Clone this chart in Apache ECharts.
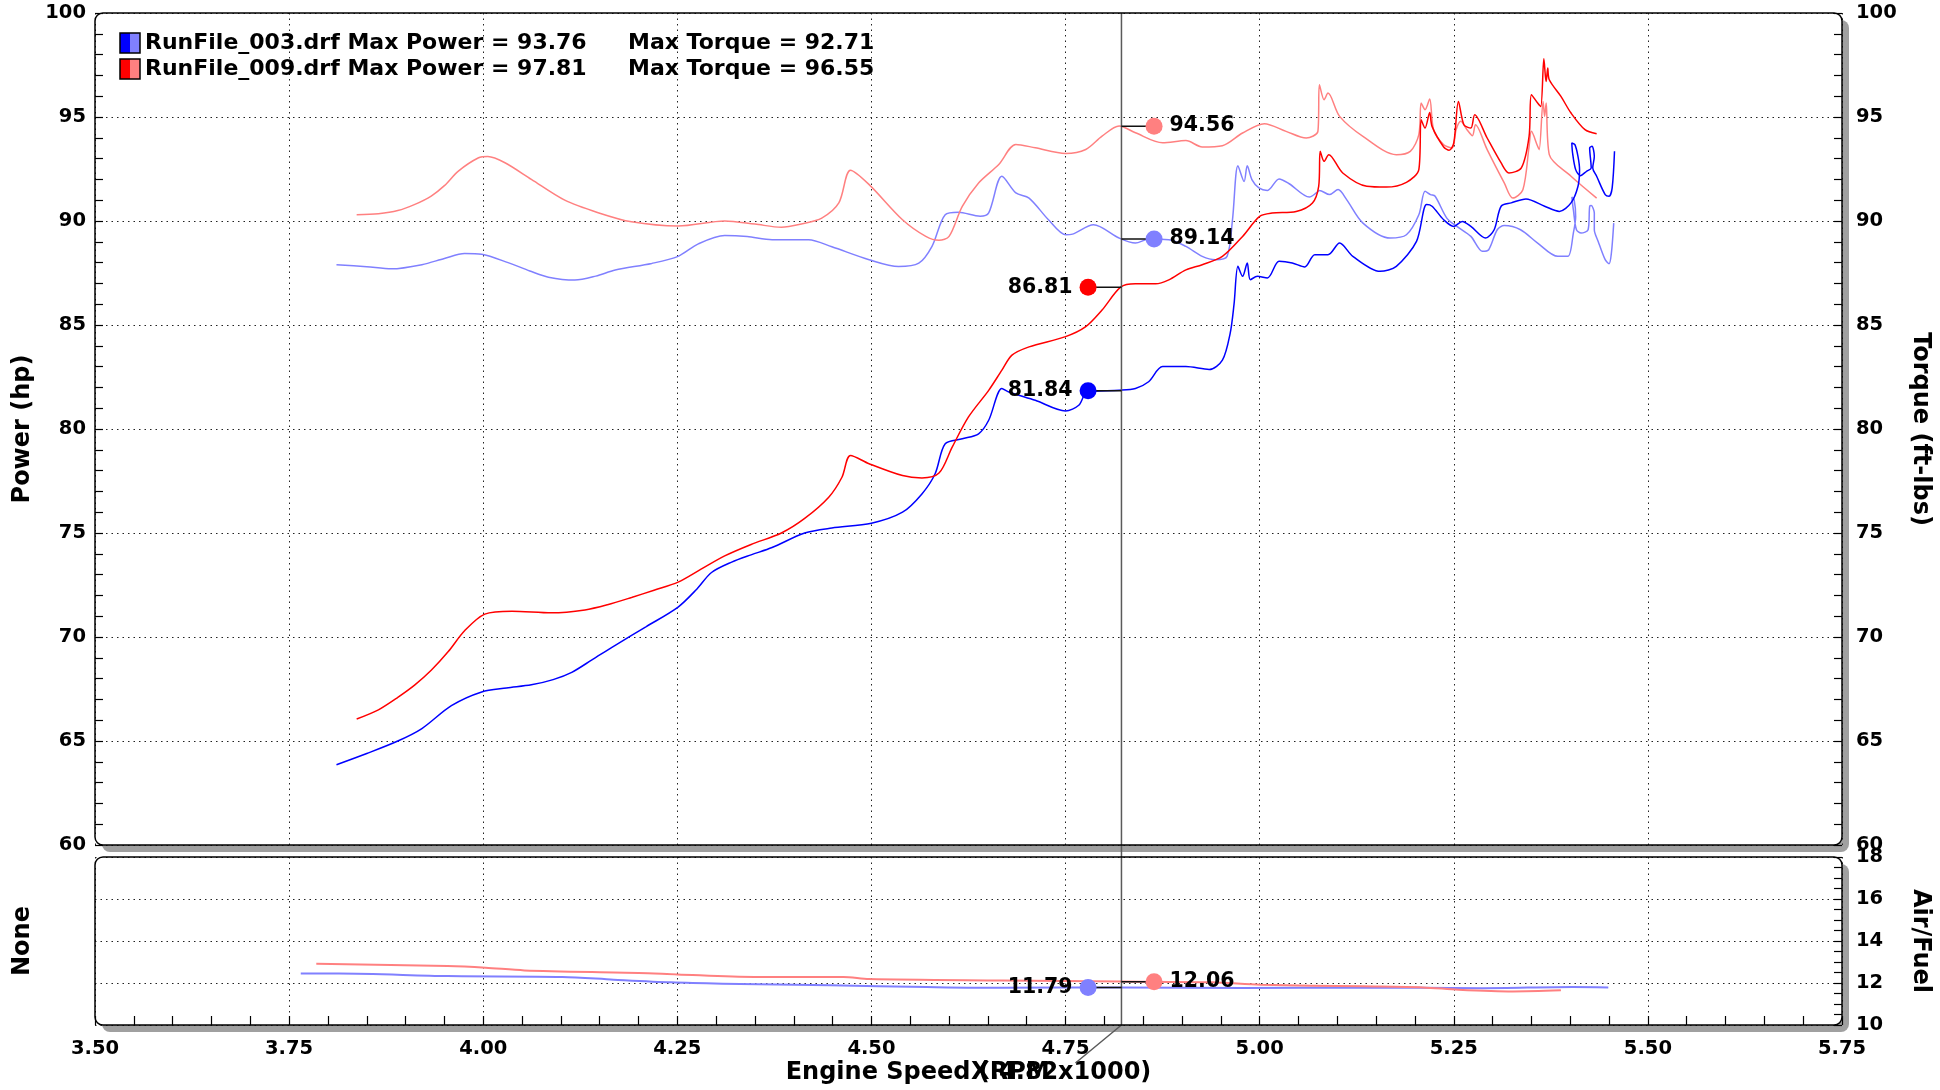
<!DOCTYPE html>
<html><head><meta charset="utf-8">
<script src="https://cdn.jsdelivr.net/npm/echarts@6/dist/echarts.min.js"></script>
<style>html,body{margin:0;padding:0;background:#fff}#c{width:1940px;height:1090px}</style>
</head><body><div id="c"></div><script>
// ---------- data ----------
const runNames = ['RunFile_003.drf', 'RunFile_009.drf'];
const maxPower = [93.76, 97.81];
const maxTorque = [92.71, 96.55];
const xTickLabels = ['3.50','3.75','4.00','4.25','4.50','4.75','5.00','5.25','5.50','5.75'];

const power003 = [[3.811,63.86],[3.850,64.4],[3.890,65.0],[3.921,65.6],[3.959,66.7],[3.998,67.36],[4.030,67.55],[4.062,67.7],[4.090,67.95],[4.114,68.3],[4.140,68.9],[4.170,69.6],[4.210,70.5],[4.251,71.44],[4.275,72.3],[4.294,73.1],[4.320,73.6],[4.345,73.95],[4.372,74.3],[4.414,75.0],[4.449,75.24],[4.500,75.47],[4.540,76.0],[4.565,76.88],[4.582,77.85],[4.595,79.29],[4.617,79.53],[4.638,79.77],[4.651,80.42],[4.668,81.95],[4.677,81.78],[4.711,81.38],[4.750,80.87],[4.767,81.14],[4.778,81.78],[4.819,81.86],[4.840,81.95],[4.857,82.27],[4.875,83.0],[4.905,83.0],[4.935,82.86],[4.952,83.31],[4.962,84.6],[4.967,86.0],[4.972,87.82],[4.978,87.34],[4.984,87.98],[4.988,87.18],[4.997,87.34],[5.010,87.26],[5.025,88.06],[5.042,87.98],[5.058,87.79],[5.071,88.38],[5.088,88.38],[5.103,88.94],[5.120,88.3],[5.155,87.58],[5.176,87.82],[5.202,89.02],[5.215,90.79],[5.222,90.71],[5.237,90.06],[5.250,89.74],[5.261,89.98],[5.272,89.74],[5.291,89.18],[5.302,89.58],[5.311,90.71],[5.324,90.87],[5.343,91.06],[5.367,90.71],[5.386,90.46],[5.401,90.87],[5.410,91.67],[5.412,92.47],[5.410,93.1],[5.406,93.67],[5.402,93.75],[5.403,93.27],[5.407,92.47],[5.413,92.18],[5.421,92.39],[5.427,92.55],[5.425,93.51],[5.428,93.59],[5.431,93.11],[5.429,92.55],[5.434,92.15],[5.445,91.27],[5.450,91.19],[5.454,91.59],[5.457,93.35]];

const power009 = [[3.837,66.06],[3.865,66.5],[3.890,67.1],[3.912,67.7],[3.933,68.4],[3.955,69.3],[3.976,70.3],[4.002,71.1],[4.037,71.24],[4.088,71.16],[4.131,71.3],[4.160,71.55],[4.191,71.9],[4.220,72.25],[4.251,72.64],[4.280,73.25],[4.311,73.9],[4.345,74.45],[4.384,75.0],[4.414,75.7],[4.445,76.72],[4.462,77.68],[4.473,78.73],[4.497,78.33],[4.540,77.76],[4.565,77.65],[4.587,77.88],[4.604,79.13],[4.625,80.58],[4.651,81.86],[4.668,82.83],[4.681,83.55],[4.703,83.95],[4.750,84.44],[4.776,84.92],[4.797,85.72],[4.821,86.82],[4.840,86.98],[4.866,86.98],[4.883,87.17],[4.905,87.65],[4.926,87.9],[4.952,88.3],[4.978,89.26],[5.000,90.22],[5.016,90.38],[5.047,90.46],[5.068,90.87],[5.076,91.67],[5.078,93.35],[5.083,92.87],[5.089,93.19],[5.107,92.31],[5.138,91.67],[5.163,91.63],[5.189,91.86],[5.205,92.47],[5.208,94.87],[5.213,94.47],[5.219,95.22],[5.222,94.55],[5.237,93.56],[5.244,93.4],[5.250,93.75],[5.256,95.75],[5.263,94.63],[5.272,94.47],[5.277,95.11],[5.293,93.99],[5.311,92.79],[5.321,92.31],[5.337,92.55],[5.347,94.07],[5.350,96.07],[5.358,95.67],[5.362,95.5],[5.366,97.8],[5.368,96.96],[5.369,96.71],[5.371,97.36],[5.373,96.79],[5.388,95.99],[5.401,95.19],[5.419,94.39],[5.434,94.2]];

const torque003 = [[3.811,87.9],[3.850,87.8],[3.882,87.7],[3.921,87.9],[3.950,88.2],[3.976,88.44],[3.998,88.4],[4.032,88.0],[4.060,87.6],[4.084,87.3],[4.118,87.16],[4.145,87.35],[4.170,87.64],[4.217,87.96],[4.251,88.3],[4.277,88.9],[4.311,89.3],[4.340,89.25],[4.372,89.1],[4.419,89.1],[4.449,88.76],[4.497,88.14],[4.535,87.81],[4.561,87.97],[4.578,88.78],[4.595,90.3],[4.612,90.42],[4.640,90.23],[4.651,90.39],[4.668,92.15],[4.686,91.35],[4.703,91.1],[4.728,90.06],[4.750,89.34],[4.759,89.37],[4.786,89.82],[4.819,89.18],[4.840,88.94],[4.857,89.13],[4.883,89.1],[4.905,88.78],[4.926,88.3],[4.943,88.14],[4.958,88.3],[4.965,90.06],[4.972,92.66],[4.980,91.9],[4.984,92.66],[4.990,91.99],[4.999,91.59],[5.010,91.47],[5.025,92.02],[5.038,91.79],[5.064,91.15],[5.073,91.35],[5.077,91.47],[5.090,91.27],[5.101,91.51],[5.112,91.03],[5.133,89.9],[5.168,89.18],[5.189,89.34],[5.205,90.3],[5.213,91.43],[5.220,91.27],[5.226,91.19],[5.241,90.14],[5.254,89.74],[5.272,89.26],[5.287,88.54],[5.295,88.62],[5.306,89.58],[5.315,89.78],[5.336,89.58],[5.358,88.94],[5.384,88.3],[5.397,88.3],[5.404,89.42],[5.407,90.22],[5.405,91.03],[5.402,91.15],[5.404,90.54],[5.408,89.58],[5.414,89.42],[5.423,89.58],[5.425,90.7],[5.427,90.74],[5.431,90.38],[5.431,89.58],[5.436,89.02],[5.445,88.14],[5.450,87.95],[5.453,88.46],[5.456,89.9]];

const torque009 = [[3.837,90.3],[3.865,90.35],[3.890,90.5],[3.912,90.8],[3.933,91.2],[3.950,91.7],[3.968,92.4],[3.994,93.04],[4.006,93.1],[4.028,92.8],[4.062,92.0],[4.105,91.0],[4.148,90.4],[4.191,89.96],[4.251,89.76],[4.311,90.0],[4.350,89.85],[4.384,89.7],[4.411,89.87],[4.436,90.14],[4.458,90.87],[4.473,92.44],[4.497,91.75],[4.540,90.06],[4.570,89.26],[4.587,89.07],[4.600,89.26],[4.617,90.7],[4.638,91.83],[4.664,92.72],[4.686,93.68],[4.711,93.52],[4.750,93.25],[4.776,93.44],[4.797,94.08],[4.819,94.57],[4.840,94.24],[4.875,93.76],[4.905,93.87],[4.926,93.56],[4.952,93.62],[4.978,94.23],[5.006,94.68],[5.034,94.31],[5.060,93.99],[5.075,94.31],[5.077,96.55],[5.083,95.83],[5.088,96.15],[5.103,95.03],[5.133,94.07],[5.176,93.19],[5.194,93.35],[5.205,94.15],[5.208,95.67],[5.213,95.35],[5.219,95.87],[5.224,94.39],[5.237,93.67],[5.248,93.51],[5.253,94.39],[5.259,94.79],[5.267,94.39],[5.274,94.1],[5.278,94.63],[5.293,93.43],[5.315,91.83],[5.326,91.1],[5.339,91.5],[5.347,93.59],[5.350,94.31],[5.358,93.59],[5.360,93.43],[5.365,95.75],[5.367,95.03],[5.369,95.67],[5.373,93.19],[5.401,92.15],[5.434,91.1]];

const afr003 = [[3.765,12.45],[3.814,12.45],[3.954,12.33],[4.102,12.29],[4.168,12.16],[4.242,12.03],[4.308,11.97],[4.447,11.89],[4.571,11.81],[4.668,11.77],[4.823,11.79],[4.978,11.76],[5.133,11.79],[5.287,11.75],[5.403,11.81],[5.449,11.79]];
const afr009 = [[3.785,12.92],[3.954,12.81],[4.003,12.73],[4.053,12.6],[4.200,12.48],[4.250,12.41],[4.349,12.29],[4.464,12.29],[4.497,12.19],[4.668,12.12],[4.823,12.07],[4.939,12.03],[5.001,11.92],[5.133,11.84],[5.210,11.79],[5.256,11.68],[5.326,11.6],[5.388,11.65]];

const cursorX = 4.822;
const cursorText = 'X:4.82';
const leftDotX = 4.779;
const rightDotX = 4.864;
const powerReadings = [81.84, 86.81];   // run 003, run 009 (left)
const torqueReadings = [89.14, 94.56];  // run 003, run 009 (right)
const afrReadings = [11.79, 12.06];     // run 003 (left), run 009 (right)

// ---------- style / layout ----------
const FONT = 'DejaVu Sans';
const COL = { p003: '#0000ff', p009: '#ff0000', t003: '#8080ff', t009: '#ff8080' };
const G0 = { left: 95, top: 13, width: 1747, height: 832 };
const G1 = { left: 95, top: 857, width: 1747, height: 168 };
const dotted = { color: '#222', width: 1, type: [1.5, 4] };
const lblStyle = { fontFamily: FONT, fontWeight: 'bold', fontSize: 19.5, color: '#000' };
const nameStyle = { fontFamily: FONT, fontWeight: 'bold', fontSize: 24, color: '#000' };

function curve(data, color, xi, yi, w) {
  return { type: 'line', data: data, xAxisIndex: xi, yAxisIndex: yi, showSymbol: false, symbol: 'none',
    smooth: 0.3, lineStyle: { color: color, width: w || 1.5 }, z: 2, silent: true, animation: false };
}
function reading(xi, yi, v, dotX, color, side) {
  return [
    { type: 'line', data: [[cursorX, v], [dotX, v]], xAxisIndex: xi, yAxisIndex: yi, symbol: 'none',
      lineStyle: { color: '#111', width: 1.5 }, z: 5, silent: true, animation: false },
    { type: 'scatter', data: [[dotX, v]], xAxisIndex: xi, yAxisIndex: yi, symbolSize: 17,
      itemStyle: { color: color, opacity: 1 }, z: 6, silent: true, animation: false,
      label: { show: true, position: side, distance: 7, formatter: () => v.toFixed(2),
        fontFamily: FONT, fontWeight: 'bold', fontSize: 20.5, color: '#000' } }
  ];
}
function frame(id, g) {
  return [
    { type: 'rect', id: id + 's', z: -30, silent: true, shape: { x: g.left + 7, y: g.top + 7, width: g.width, height: g.height, r: 8 }, style: { fill: '#a0a0a0' } },
    { type: 'rect', id: id + 'b', z: -29, silent: true, shape: { x: g.left, y: g.top, width: g.width, height: g.height, r: 8 }, style: { fill: '#fff' } },
    { type: 'rect', id: id + 'f', z: 60, silent: true, shape: { x: g.left, y: g.top, width: g.width, height: g.height, r: 8 }, style: { fill: 'none', stroke: '#000', lineWidth: 1.5 } }
  ];
}
function legendRow(i, y, c1, c2) {
  return [
    { type: 'rect', silent: true, z: 70, shape: { x: 120, y: y - 10, width: 10, height: 20 }, style: { fill: c1 } },
    { type: 'rect', silent: true, z: 70, shape: { x: 130, y: y - 10, width: 10, height: 20 }, style: { fill: c2 } },
    { type: 'rect', silent: true, z: 71, shape: { x: 120, y: y - 10, width: 20, height: 20 }, style: { fill: 'none', stroke: '#000', lineWidth: 1.5 } },
    { type: 'text', silent: true, z: 71, x: 145, y: y, style: { text: runNames[i] + ' Max Power = ' + maxPower[i].toFixed(2), font: 'bold 22px "' + FONT + '"', fill: '#000', textVerticalAlign: 'middle', verticalAlign: 'middle' } },
    { type: 'text', silent: true, z: 71, x: 628, y: y, style: { text: 'Max Torque = ' + maxTorque[i].toFixed(2), font: 'bold 22px "' + FONT + '"', fill: '#000', textVerticalAlign: 'middle', verticalAlign: 'middle' } }
  ];
}

const xBase = { type: 'value', min: 3.5, max: 5.75, interval: 0.25 };
const chart = echarts.init(document.getElementById('c'), null, { renderer: 'canvas' });

const option = {
  animation: false,
  backgroundColor: '#fff',
  grid: [Object.assign({ containLabel: false }, G0), Object.assign({ containLabel: false }, G1)],
  xAxis: [
    Object.assign({}, xBase, { gridIndex: 0, axisLine: { show: false }, axisTick: { show: false }, axisLabel: { show: false },
      splitLine: { show: true, lineStyle: dotted } }),
    Object.assign({}, xBase, { gridIndex: 1, axisLine: { show: false },
      axisTick: { show: true, inside: true, length: 9, lineStyle: { color: '#000', width: 1.2 } },
      minorTick: { show: true, splitNumber: 5, length: 9, lineStyle: { color: '#000', width: 1.2 } },
      axisLabel: Object.assign({ margin: 14, formatter: (v) => xTickLabels[Math.round((v - 3.5) / 0.25)] }, lblStyle),
      splitLine: { show: true, lineStyle: dotted },
      name: 'Engine Speed (RPM x1000)', nameLocation: 'middle', nameGap: 36, nameTextStyle: nameStyle })
  ],
  yAxis: [
    { type: 'value', gridIndex: 0, position: 'left', min: 60, max: 100, interval: 5,
      axisLine: { show: false }, axisTick: { show: true, inside: true, length: 8, lineStyle: { color: '#000', width: 1.2 } },
      minorTick: { show: true, splitNumber: 5, length: 8, lineStyle: { color: '#000', width: 1.2 } },
      axisLabel: Object.assign({ margin: 9 }, lblStyle), splitLine: { show: true, lineStyle: dotted },
      name: 'Power (hp)', nameLocation: 'middle', nameGap: 60, nameTextStyle: nameStyle },
    { type: 'value', gridIndex: 0, position: 'right', min: 60, max: 100, interval: 5,
      axisLine: { show: false }, axisTick: { show: true, inside: true, length: 8, lineStyle: { color: '#000', width: 1.2 } },
      minorTick: { show: true, splitNumber: 5, length: 8, lineStyle: { color: '#000', width: 1.2 } },
      axisLabel: Object.assign({ margin: 14 }, lblStyle), splitLine: { show: false },
      name: 'Torque (ft-lbs)', nameLocation: 'middle', nameGap: 66, nameRotate: -90, nameTextStyle: nameStyle },
    { type: 'value', gridIndex: 1, position: 'left', min: 10, max: 18, interval: 2,
      axisLine: { show: false }, axisTick: { show: false }, axisLabel: { show: false }, splitLine: { show: false },
      name: 'None', nameLocation: 'middle', nameGap: 60, nameTextStyle: nameStyle },
    { type: 'value', gridIndex: 1, position: 'right', min: 10, max: 18, interval: 2,
      axisLine: { show: false }, axisTick: { show: true, inside: true, length: 8, lineStyle: { color: '#000', width: 1.2 } },
      minorTick: { show: true, splitNumber: 4, length: 8, lineStyle: { color: '#000', width: 1.2 } },
      axisLabel: Object.assign({ margin: 14 }, lblStyle), splitLine: { show: true, lineStyle: dotted },
      name: 'Air/Fuel', nameLocation: 'middle', nameGap: 66, nameRotate: -90, nameTextStyle: nameStyle }
  ],
  series: [
    curve(torque003, COL.t003, 0, 1),
    curve(torque009, COL.t009, 0, 1),
    curve(power003, COL.p003, 0, 0),
    curve(power009, COL.p009, 0, 0),
    curve(afr003, COL.t003, 1, 3, 2),
    curve(afr009, COL.t009, 1, 3, 2)
  ].concat(
    reading(0, 0, powerReadings[0], leftDotX, COL.p003, 'left'),
    reading(0, 0, powerReadings[1], leftDotX, COL.p009, 'left'),
    reading(0, 1, torqueReadings[0], rightDotX, COL.t003, 'right'),
    reading(0, 1, torqueReadings[1], rightDotX, COL.t009, 'right'),
    reading(1, 3, afrReadings[0], leftDotX, COL.t003, 'left'),
    reading(1, 3, afrReadings[1], rightDotX, COL.t009, 'right')
  ),
  graphic: [].concat(frame('g0', G0), frame('g1', G1),
    legendRow(0, 43, COL.p003, COL.t003), legendRow(1, 69, COL.p009, COL.t009))
};
chart.setOption(option);

// cursor line drawn through the library's scales
const pTop = chart.convertToPixel({ xAxisIndex: 0, yAxisIndex: 0 }, [cursorX, 100]);
const pBot = chart.convertToPixel({ xAxisIndex: 1, yAxisIndex: 3 }, [cursorX, 10]);
chart.setOption({ graphic: [
  { type: 'polyline', id: 'cursor', z: 4, silent: true,
    shape: { points: [[pTop[0], pTop[1]], [pBot[0], pBot[1]], [pBot[0] - 46, pBot[1] + 38]] },
    style: { stroke: '#5a5a5a', lineWidth: 1.5, fill: 'none' } },
  { type: 'text', id: 'cursorText', z: 4, silent: true, x: 971, y: pBot[1] + 48,
    style: { text: cursorText, font: 'bold 24px "' + FONT + '"', fill: '#000', verticalAlign: 'middle', textVerticalAlign: 'middle' } }
] });
</script></body></html>
